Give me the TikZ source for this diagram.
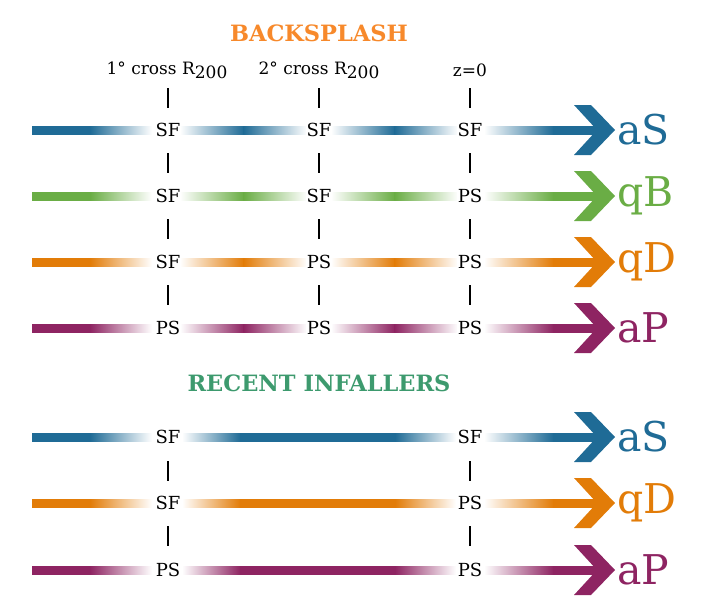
\documentclass[tikz,border=0pt]{standalone}
\usepackage{fontspec}
\setmainfont{DejaVu Serif}
\usetikzlibrary{calc}
\definecolor{cblue}{RGB}{31,107,150}
\definecolor{cgreen}{RGB}{106,173,69}
\definecolor{corange}{RGB}{226,124,8}
\definecolor{cpurple}{RGB}{142,36,98}
\definecolor{ttorange}{RGB}{247,137,43}
\definecolor{ttgreen}{RGB}{61,154,110}
\tikzset{
  lab/.style={font=\fontsize{18}{18}\selectfont, inner sep=1pt, fill=white},
  hdr/.style={font=\fontsize{17}{17}\selectfont, inner sep=0pt},
  endlab/.style={font=\fontsize{41}{41}\selectfont, inner sep=0pt, anchor=west},
  ttl/.style={font=\bfseries\fontsize{22.5}{22.5}\selectfont, inner sep=0pt},
  tick/.style={line width=2pt, black},
}
% start segment, arrow and end segment
\newcommand\rowends[3]{% y, colour, end label
  \shade[left color=#2,right color=#2] (32,#1-4) rectangle (90.5,#1+4);
  \shade[left color=#2,right color=white] (90,#1-4) rectangle (152,#1+4);
  \shade[left color=white,right color=#2] (484,#1-4) rectangle (553.5,#1+4);
  \shade[left color=#2,right color=#2] (553,#1-4) rectangle (602,#1+4);
  \fill[#2] (574,#1-25) -- (591,#1-25) -- (615,#1) -- (591,#1+25) -- (574,#1+25) -- (597,#1) -- cycle;
  \node[endlab,text=#2] at (617,#1) {#3};
}
% hump between two markers
\newcommand\hump[3]{% y, colour, left x
  \shade[left color=white,right color=#2] (#3+12,#1-4) rectangle (#3+76,#1+4);
  \shade[left color=#2,right color=white] (#3+75.5,#1-4) rectangle (#3+139,#1+4);
}
% long plateau between two markers
\newcommand\plateau[2]{% y, colour
  \shade[left color=white,right color=#2] (182,#1-4) rectangle (240.5,#1+4);
  \shade[left color=#2,right color=#2] (240,#1-4) rectangle (395.5,#1+4);
  \shade[left color=#2,right color=white] (395,#1-4) rectangle (456,#1+4);
}
\begin{document}
\begin{tikzpicture}[x=1pt,y=-1pt]
\useasboundingbox (0,0) rectangle (710,614);

% titles and headers
\node[ttl,text=ttorange] (tback) at (319,33) {BACKSPLASH};
\node[ttl,text=ttgreen] (trec) at (319,383) {RECENT INFALLERS};
\node[hdr] (h1) at (167,70) {1° cross R\raisebox{-4pt}{200}};
\node[hdr] (h2) at (319,70) {2° cross R\raisebox{-4pt}{200}};
\node[hdr] (h3) at (470,70) {z=0};

% backsplash rows
\rowends{130}{cblue}{aS}
\hump{130}{cblue}{168}\hump{130}{cblue}{319}
\rowends{196}{cgreen}{qB}
\hump{196}{cgreen}{168}\hump{196}{cgreen}{319}
\rowends{262}{corange}{qD}
\hump{262}{corange}{168}\hump{262}{corange}{319}
\rowends{328}{cpurple}{aP}
\hump{328}{cpurple}{168}\hump{328}{cpurple}{319}

\node[lab] (a1) at (168,130) {SF};
\node[lab] (a2) at (319,130) {SF};
\node[lab] (a3) at (470,130) {SF};
\node[lab] (b1) at (168,196) {SF};
\node[lab] (b2) at (319,196) {SF};
\node[lab] (b3) at (470,196) {PS};
\node[lab] (c1) at (168,262) {SF};
\node[lab] (c2) at (319,262) {PS};
\node[lab] (c3) at (470,262) {PS};
\node[lab] (d1) at (168,328) {PS};
\node[lab] (d2) at (319,328) {PS};
\node[lab] (d3) at (470,328) {PS};

% ticks
\foreach \x in {168,319,470}{
  \foreach \y in {98,163,229,295}{
    \draw[tick] (\x,\y-10) -- (\x,\y+10);
  }
}

% recent infaller rows
\rowends{437}{cblue}{aS}\plateau{437}{cblue}
\rowends{503}{corange}{qD}\plateau{503}{corange}
\rowends{570}{cpurple}{aP}\plateau{570}{cpurple}

\node[lab] (r1) at (168,437) {SF};
\node[lab] (r2) at (470,437) {SF};
\node[lab] (s1) at (168,503) {SF};
\node[lab] (s2) at (470,503) {PS};
\node[lab] (t1) at (168,570) {PS};
\node[lab] (t2) at (470,570) {PS};

\foreach \x in {168,470}{
  \foreach \y in {471,536}{
    \draw[tick] (\x,\y-10) -- (\x,\y+10);
  }
}
\end{tikzpicture}
\end{document}
